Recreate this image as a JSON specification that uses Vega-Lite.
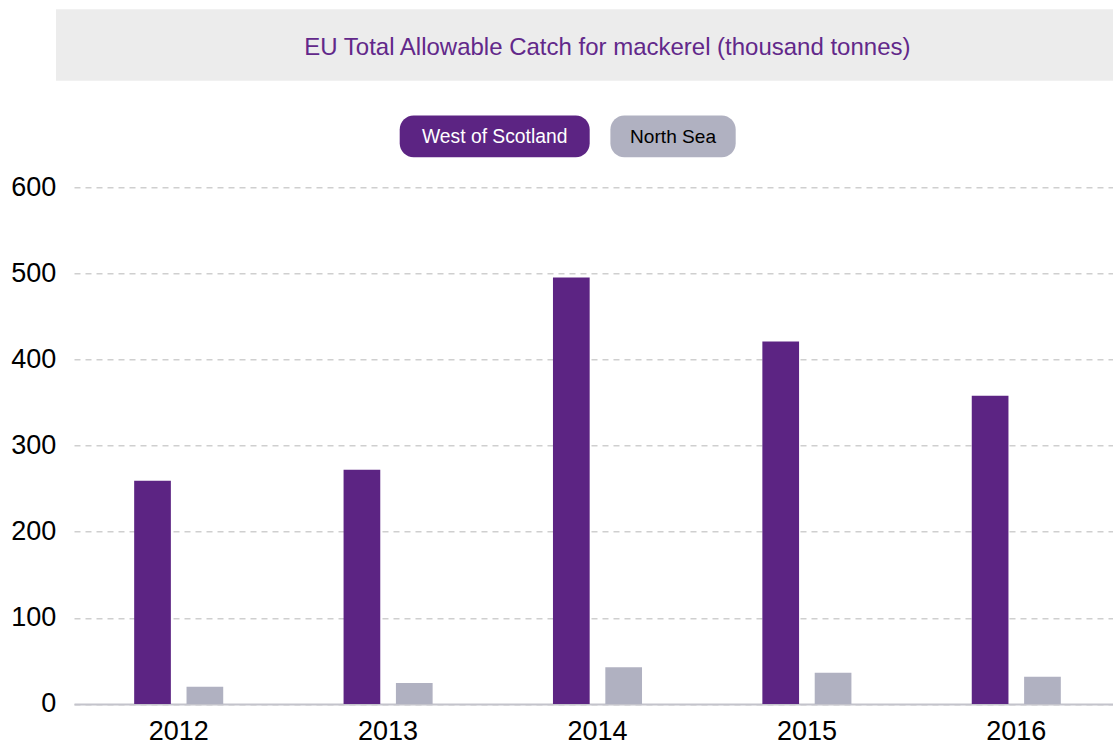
{
  "$schema": "https://vega.github.io/schema/vega-lite/v6.json",
  "padding": {"left": 10, "top": 9.3, "right": -7.3, "bottom": 0},
  "background": "white",
  "config": {"view": {"stroke": null}, "font": "Liberation Sans"},
  "bounds": "flush",
  "spacing": 34.3,
  "vconcat": [
    {
      "width": 1064.9,
      "height": 71.4,
      "view": {"fill": "#ececec", "stroke": null},
      "data": {"values": [{"label": "EU Total Allowable Catch for mackerel (thousand tonnes)"}]},
      "mark": {"type": "text", "fontSize": 24, "fill": "#62288a", "dx": 18.95, "dy": 3},
      "encoding": {"text": {"field": "label"}}
    },
    {
      "bounds": "flush",
      "spacing": 71.6,
      "vconcat": [
        {
          "bounds": "flush",
          "spacing": 20.7,
          "hconcat": [
            {"width": 322.2, "height": 41.7, "data": {"values": []}, "mark": "point"},
            {
              "width": 190,
              "height": 41.7,
              "view": {"fill": "#5c2483", "cornerRadius": 14, "stroke": null},
              "data": {"values": [{"series": "West of Scotland"}]},
              "mark": {"type": "text", "fontSize": 19.3, "fill": "#ffffff", "dy": 1},
              "encoding": {"text": {"field": "series"}}
            },
            {
              "width": 125.3,
              "height": 41.7,
              "view": {"fill": "#b0b1c1", "cornerRadius": 14, "stroke": null},
              "data": {"values": [{"series": "North Sea"}]},
              "mark": {"type": "text", "fontSize": 19.1, "fill": "#000000", "dy": 1},
              "encoding": {"text": {"field": "series"}}
            }
          ]
        },
        {
          "bounds": "flush",
          "spacing": 0,
          "hconcat": [
            {"width": 17.9, "height": 516.7, "data": {"values": []}, "mark": "point"},
            {
              "width": 1047,
              "height": 516.7,
              "data": {
                "values": [
                  {"year": "2012", "series": "West of Scotland", "value": 259},
                  {"year": "2012", "series": "North Sea", "value": 20},
                  {"year": "2013", "series": "West of Scotland", "value": 272},
                  {"year": "2013", "series": "North Sea", "value": 24.4},
                  {"year": "2014", "series": "West of Scotland", "value": 495},
                  {"year": "2014", "series": "North Sea", "value": 42.5},
                  {"year": "2015", "series": "West of Scotland", "value": 420.7},
                  {"year": "2015", "series": "North Sea", "value": 36.3},
                  {"year": "2016", "series": "West of Scotland", "value": 357.7},
                  {"year": "2016", "series": "North Sea", "value": 31.4}
                ]
              },
              "mark": {"type": "bar"},
              "encoding": {
                "x": {
                  "field": "year",
                  "type": "nominal",
                  "scale": {"paddingInner": 0.5747, "paddingOuter": 0.28735},
                  "axis": {
                    "title": null,
                    "labelAngle": 0,
                    "labelFontSize": 27,
                    "labelColor": "#000000",
                    "ticks": false,
                    "tickSize": 0,
                    "labelPadding": 15,
                    "domainColor": "#c4c4cc",
                    "domainWidth": 2,
                    "grid": false
                  }
                },
                "xOffset": {
                  "field": "series",
                  "sort": ["West of Scotland", "North Sea"],
                  "scale": {"paddingInner": 0.299, "paddingOuter": 0}
                },
                "y": {
                  "field": "value",
                  "type": "quantitative",
                  "scale": {"domain": [0, 600], "nice": false},
                  "axis": {
                    "title": null,
                    "values": [0, 100, 200, 300, 400, 500, 600],
                    "labelFontSize": 27,
                    "labelColor": "#000000",
                    "labelPadding": 18.3,
                    "ticks": false,
                    "tickSize": 0,
                    "domain": false,
                    "gridDash": [6, 5],
                    "gridColor": "#cfcfcf",
                    "gridWidth": 1.5
                  }
                },
                "color": {
                  "field": "series",
                  "type": "nominal",
                  "scale": {"domain": ["West of Scotland", "North Sea"], "range": ["#5c2483", "#b0b1c1"]},
                  "legend": null
                }
              }
            }
          ]
        }
      ]
    }
  ]
}
